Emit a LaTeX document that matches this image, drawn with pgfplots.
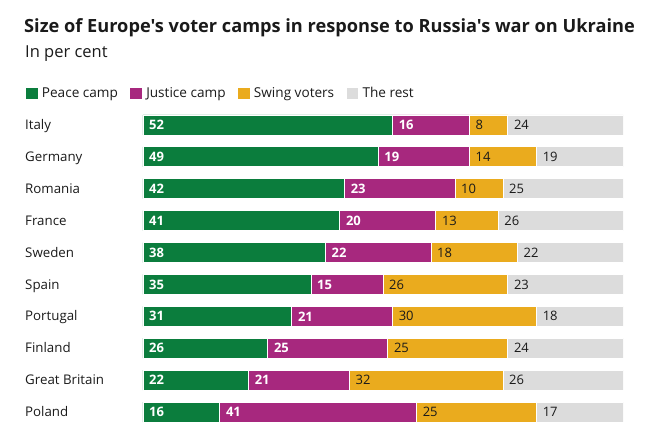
\documentclass[border=0pt]{standalone}
\usepackage{pgfplots}
\pgfplotsset{compat=1.18}
\usepackage{pgfplotstable}
\usepackage{fontspec}
\setmainfont{Open Sans}[Ligatures=TeXOff]
\definecolor{cpeace}{HTML}{0B7D3D}
\definecolor{cjust}{HTML}{A7287E}
\definecolor{cswing}{HTML}{EAAB1E}
\definecolor{crest}{HTML}{DCDCDC}
\definecolor{ctext}{HTML}{1A1A1A}

% y: 0=Italy ... 9=Poland ; values as plotted
\pgfplotstableread{
y peace just swing rest
0 52 16 8 24
1 49 19 14 18
2 42 23 10 25
3 41 20 13 26
4 38 22 18 22
5 35 15 26 24
6 31 21 30 18
7 26 25 25 24
8 22 21 32 25
9 16 41 25 18
}\bars

% label positions (segment starts) and shown values
\pgfplotstableread{
y x1 l1 x2 l2 x3 l3 x4 l4
0 0 52 52 16 68 8 76 24
1 0 49 49 19 68 14 82 19
2 0 42 42 23 65 10 75 25
3 0 41 41 20 61 13 74 26
4 0 38 38 22 60 18 78 22
5 0 35 35 15 50 26 76 23
6 0 31 31 21 52 30 82 18
7 0 26 26 25 51 25 76 24
8 0 22 22 21 43 32 75 26
9 0 16 16 41 57 25 82 17
}\labs

\begin{document}
\begin{tikzpicture}
\path[use as bounding box] (0pt,0pt) rectangle (657pt,441pt);
\node[anchor=base west, inner sep=0, font=\bfseries\fontsize{18.2}{20}\selectfont, text=ctext] at (24pt,408pt) {Size of Europe's voter camps in response to Russia's war on Ukraine};
\node[anchor=base west, inner sep=0, font=\fontsize{16.5}{19}\selectfont, text=ctext] at (25pt,383pt) {In per cent};
\begin{axis}[
  at={(143pt,13pt)}, anchor=south west,
  scale only axis, width=480pt, height=319pt,
  xbar stacked, bar width=20pt,
  xmin=0, xmax=100, ymin=-0.5, ymax=9.5, y dir=reverse,
  axis line style={draw=none},
  xtick=\empty,
  ytick={0,...,9},
  yticklabels={Italy,Germany,Romania,France,Sweden,Spain,Portugal,Finland,Great Britain,Poland},
  major tick length=0pt,
  yticklabel style={anchor=base west, inner sep=0pt, xshift=-118pt, yshift=-4.6pt, font=\fontsize{13.3}{15}\selectfont, text=ctext},
  legend columns=4,
  legend style={at={(-0.246,1.050)}, anchor=west, draw=none, fill=none, inner sep=0pt,
    font=\fontsize{13.6}{15}\selectfont, text=ctext,
    nodes={inner xsep=3.5pt, inner ysep=0pt},
    /tikz/every even column/.append style={column sep=8pt}},
  legend image code/.code={\fill[#1] (0pt,-6pt) rectangle (12.5pt,6pt);},
]
\addplot[fill=cpeace, draw=white, line width=0.8pt] table[x=peace, y=y] {\bars};
\addplot[fill=cjust, draw=white, line width=0.8pt] table[x=just, y=y] {\bars};
\addplot[fill=cswing, draw=white, line width=0.8pt] table[x=swing, y=y] {\bars};
\addplot[fill=crest, draw=white, line width=0.8pt] table[x=rest, y=y] {\bars};
\legend{Peace camp, Justice camp, Swing voters, The rest}
\end{axis}
\begin{axis}[
  at={(143pt,13pt)}, anchor=south west,
  scale only axis, width=480pt, height=319pt,
  xmin=0, xmax=100, ymin=-0.5, ymax=9.5, y dir=reverse,
  hide axis,
  nodes near coords, point meta=explicit symbolic,
  nodes near coords align={anchor=west},
  every node near coord/.append style={anchor=west, xshift=6pt, inner sep=0pt, font=\bfseries\fontsize{13}{15}\selectfont},
]
\addplot[only marks, mark=none, every node near coord/.append style={text=white}] table[x=x1, y=y, meta=l1] {\labs};
\addplot[only marks, mark=none, every node near coord/.append style={text=white}] table[x=x2, y=y, meta=l2] {\labs};
\addplot[only marks, mark=none, every node near coord/.append style={text=ctext, font=\fontsize{13}{15}\selectfont}] table[x=x3, y=y, meta=l3] {\labs};
\addplot[only marks, mark=none, every node near coord/.append style={text=ctext, font=\fontsize{13}{15}\selectfont}] table[x=x4, y=y, meta=l4] {\labs};
\end{axis}
\end{tikzpicture}
\end{document}
